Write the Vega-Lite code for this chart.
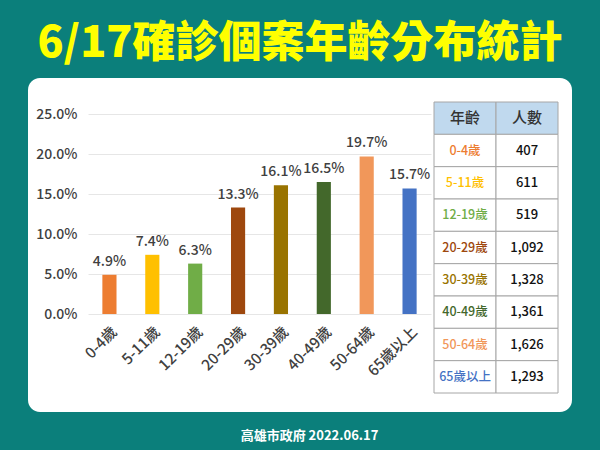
{
  "$schema": "https://vega.github.io/schema/vega-lite/v6.json",
  "width": 544,
  "height": 334,
  "autosize": {"type": "none"},
  "padding": {"left": 28, "top": 78, "right": 28, "bottom": 38},
  "background": "#0b7f7b",
  "config": {
    "view": {"fill": "white", "stroke": null, "cornerRadius": 12},
    "font": "Noto Sans CJK TC"
  },
  "title": {
    "text": "6/17確診個案年齡分布統計",
    "color": "#ffff00",
    "fontSize": 43,
    "fontWeight": 900,
    "font": "Noto Sans CJK TC",
    "anchor": "middle",
    "offset": 12
  },
  "datasets": {
    "ages": [
      {"age": "0-4歲", "share": 0.049, "count": 407},
      {"age": "5-11歲", "share": 0.074, "count": 611},
      {"age": "12-19歲", "share": 0.063, "count": 519},
      {"age": "20-29歲", "share": 0.133, "count": 1092},
      {"age": "30-39歲", "share": 0.161, "count": 1328},
      {"age": "40-49歲", "share": 0.165, "count": 1361},
      {"age": "50-64歲", "share": 0.197, "count": 1626},
      {"age": "65歲以上", "share": 0.157, "count": 1293}
    ],
    "table": [
      {"row": "header", "col": "年齡", "text": "年齡"},
      {"row": "header", "col": "人數", "text": "人數"},
      {"row": "0-4歲", "col": "年齡", "text": "0-4歲"},
      {"row": "0-4歲", "col": "人數", "text": "407"},
      {"row": "5-11歲", "col": "年齡", "text": "5-11歲"},
      {"row": "5-11歲", "col": "人數", "text": "611"},
      {"row": "12-19歲", "col": "年齡", "text": "12-19歲"},
      {"row": "12-19歲", "col": "人數", "text": "519"},
      {"row": "20-29歲", "col": "年齡", "text": "20-29歲"},
      {"row": "20-29歲", "col": "人數", "text": "1,092"},
      {"row": "30-39歲", "col": "年齡", "text": "30-39歲"},
      {"row": "30-39歲", "col": "人數", "text": "1,328"},
      {"row": "40-49歲", "col": "年齡", "text": "40-49歲"},
      {"row": "40-49歲", "col": "人數", "text": "1,361"},
      {"row": "50-64歲", "col": "年齡", "text": "50-64歲"},
      {"row": "50-64歲", "col": "人數", "text": "1,626"},
      {"row": "65歲以上", "col": "年齡", "text": "65歲以上"},
      {"row": "65歲以上", "col": "人數", "text": "1,293"}
    ]
  },
  "layer": [
    {
      "data": {"name": "ages"},
      "encoding": {
        "x": {
          "field": "age",
          "type": "nominal",
          "sort": null,
          "scale": {
            "domain": ["0-4歲", "5-11歲", "12-19歲", "20-29歲", "30-39歲", "40-49歲", "50-64歲", "65歲以上"],
            "range": [60, 403],
            "paddingInner": 0.67,
            "paddingOuter": 0.335
          },
          "axis": {
            "orient": "bottom",
            "offset": -98,
            "labelAngle": -45,
            "title": null,
            "domain": false,
            "ticks": false,
            "grid": false,
            "labelFontSize": 15,
            "labelFontWeight": 500,
            "labelColor": "#404040",
            "labelPadding": 10
          }
        },
        "y": {
          "field": "share",
          "type": "quantitative",
          "scale": {"domain": [0, 0.25], "range": [236, 36], "nice": false},
          "axis": {
            "orient": "left",
            "offset": -60,
            "values": [0, 0.05, 0.1, 0.15, 0.2, 0.25],
            "format": ".1%",
            "title": null,
            "domain": false,
            "ticks": false,
            "grid": true,
            "gridColor": "#e6e6e6",
            "labelFontSize": 14,
            "labelFontWeight": 500,
            "labelColor": "#404040",
            "labelPadding": 11
          }
        }
      },
      "layer": [
        {
          "mark": {"type": "bar"},
          "encoding": {
            "color": {
              "field": "age",
              "type": "nominal",
              "scale": {
                "domain": ["0-4歲", "5-11歲", "12-19歲", "20-29歲", "30-39歲", "40-49歲", "50-64歲", "65歲以上"],
                "range": ["#ed7d31", "#ffc000", "#70ad47", "#9e480e", "#997300", "#43682b", "#f1975a", "#4472c4"]
              },
              "legend": null
            }
          }
        },
        {
          "mark": {"type": "text", "baseline": "bottom", "dy": -6, "fontSize": 14, "fontWeight": 500, "color": "#404040"},
          "encoding": {
            "text": {"field": "share", "type": "quantitative", "format": ".1%"}
          }
        }
      ]
    },
    {
      "data": {"name": "table"},
      "encoding": {
        "x": {
          "field": "col",
          "type": "nominal",
          "sort": null,
          "scale": {"domain": ["年齡", "人數"], "range": [406, 530], "paddingInner": 0, "paddingOuter": 0},
          "axis": {
            "orient": "bottom",
            "title": "高雄市政府  2022.06.17",
            "labels": false,
            "ticks": false,
            "domain": false,
            "grid": false,
            "titleColor": "white",
            "titleFontSize": 13,
            "titleFontWeight": "bold",
            "titleX": 281,
            "titleY": 23,
            "titleAlign": "center",
            "titleBaseline": "middle",
            "titleAngle": 0
          }
        },
        "y": {
          "field": "row",
          "type": "nominal",
          "sort": null,
          "scale": {
            "domain": ["header", "0-4歲", "5-11歲", "12-19歲", "20-29歲", "30-39歲", "40-49歲", "50-64歲", "65歲以上"],
            "range": [24, 315],
            "paddingInner": 0,
            "paddingOuter": 0
          },
          "axis": null
        }
      },
      "layer": [
        {
          "mark": {"type": "rect", "stroke": "#a6a6a6", "strokeWidth": 1},
          "encoding": {
            "fill": {
              "condition": {"test": "datum.row === 'header'", "value": "#c0d9ee"},
              "value": "white"
            }
          }
        },
        {
          "transform": [{"filter": "datum.row === 'header'"}],
          "mark": {"type": "text", "fontSize": 15, "fontWeight": 500, "color": "#333333"},
          "encoding": {"text": {"field": "text", "type": "nominal"}}
        },
        {
          "transform": [{"filter": "datum.row !== 'header' && datum.col === '年齡'"}],
          "mark": {"type": "text", "fontSize": 12.5, "fontWeight": 500},
          "encoding": {
            "text": {"field": "text", "type": "nominal"},
            "color": {
              "field": "row",
              "type": "nominal",
              "scale": {
                "domain": ["0-4歲", "5-11歲", "12-19歲", "20-29歲", "30-39歲", "40-49歲", "50-64歲", "65歲以上"],
                "range": ["#ed7d31", "#ffc000", "#70ad47", "#9e480e", "#997300", "#43682b", "#f1975a", "#4472c4"]
              },
              "legend": null
            }
          }
        },
        {
          "transform": [{"filter": "datum.row !== 'header' && datum.col === '人數'"}],
          "mark": {"type": "text", "fontSize": 13, "fontWeight": 500, "color": "#111111"},
          "encoding": {"text": {"field": "text", "type": "nominal"}}
        }
      ]
    }
  ],
  "resolve": {
    "scale": {"x": "independent", "y": "independent"},
    "axis": {"x": "independent", "y": "independent"}
  }
}
